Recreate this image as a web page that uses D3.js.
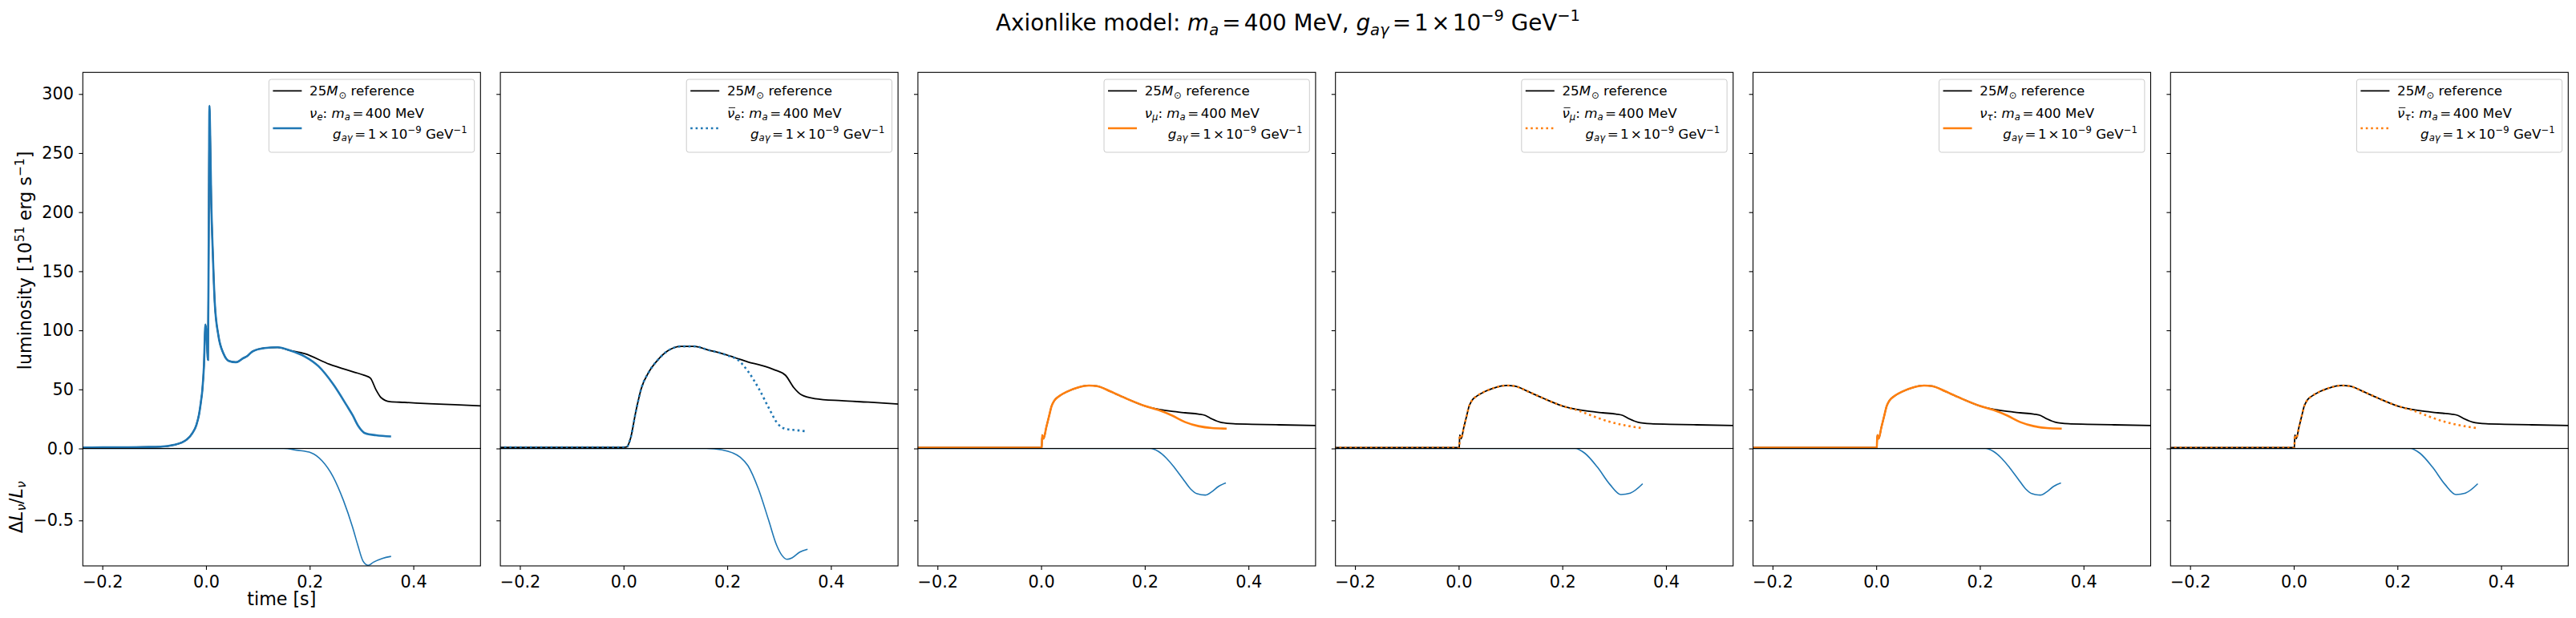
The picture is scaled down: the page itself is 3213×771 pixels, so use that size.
<!DOCTYPE html>
<html><head><meta charset="utf-8">
<script src="https://cdn.jsdelivr.net/npm/d3@7"></script>
<style>
body{margin:0;background:#fff}
svg{display:block}
text{font-family:"DejaVu Sans",sans-serif;white-space:pre;fill:#000}
</style>
</head><body>
<svg id="c" width="3213" height="771"></svg>
<script>
// ---------------- data ----------------
const xTicks = [-0.2, 0.0, 0.2, 0.4];
const xTickLabels = ["\u22120.2", "0.0", "0.2", "0.4"];
const lumTicks = [50, 100, 150, 200, 250, 300];
const lumTickLabels = ["50", "100", "150", "200", "250", "300"];
const ratioTicks = [0, -0.5];
const ratioTickLabels = ["0.0", "\u22120.5"];

// [time s, luminosity 1e51 erg/s]
const refNuE = [[-0.25,0.8],[-0.2,0.9],[-0.15,1.0],[-0.12,1.2],[-0.088,1.5],[-0.062,3],[-0.047,5],[-0.037,7.6],[-0.026,13.2],[-0.0185,20],[-0.0134,29],[-0.0097,40],[-0.0072,49],[-0.004,70],[-0.0012,105],[0.0008,98],[0.0037,75],[0.0052,180],[0.0066,290],[0.0078,270],[0.0099,213],[0.0133,163],[0.0169,123],[0.0237,96],[0.034,80],[0.0444,74],[0.058,73],[0.072,76.5],[0.0789,78],[0.0893,82],[0.113,85],[0.138,85.6],[0.162,83],[0.19,80.3],[0.238,71.3],[0.286,64.6],[0.305,62],[0.317,59.6],[0.328,49.6],[0.338,42.9],[0.355,39.6],[0.383,39],[0.43,37.9],[0.48,37],[0.54,35.8]];
const axNuE = [[-0.25,0.8],[-0.2,0.9],[-0.15,1.0],[-0.12,1.2],[-0.088,1.5],[-0.062,3],[-0.047,5],[-0.037,7.6],[-0.026,13.2],[-0.0185,20],[-0.0134,29],[-0.0097,40],[-0.0072,49],[-0.004,70],[-0.0012,105],[0.0008,98],[0.0037,75],[0.0052,180],[0.0066,290],[0.0078,270],[0.0099,213],[0.0133,163],[0.0169,123],[0.0237,96],[0.034,80],[0.0444,74],[0.058,73],[0.072,76.5],[0.0789,78],[0.0893,82],[0.113,85],[0.138,85.6],[0.162,83],[0.19,78],[0.217,69.6],[0.245,54.6],[0.272,36],[0.283,28],[0.293,19.5],[0.307,12.9],[0.328,11.2],[0.357,10.2]];
const refNuEbar = [[-0.25,1.0],[0.0,1.0],[0.0058,1.2],[0.0135,8.7],[0.0237,31.4],[0.034,50.6],[0.0496,65.3],[0.065,74.4],[0.0856,82.7],[0.111,86.4],[0.137,86.4],[0.163,83.4],[0.189,80.5],[0.214,77],[0.24,73.2],[0.266,70.3],[0.292,66.4],[0.3125,61.9],[0.328,51.7],[0.343,45.4],[0.369,42.2],[0.421,40.4],[0.472,39.2],[0.54,37.3]];
const axNuEbar = [[-0.25,1.0],[0.0,1.0],[0.0058,1.2],[0.0135,8.7],[0.0237,31.4],[0.034,50.6],[0.0496,65.3],[0.065,74.4],[0.0856,82.7],[0.111,86.4],[0.137,86.4],[0.163,83.4],[0.189,80.5],[0.205,78],[0.219,75.5],[0.24,65.3],[0.261,50.6],[0.281,33.6],[0.297,21.2],[0.3125,16.6],[0.333,15.5],[0.354,14.4]];
const refNuX = [[-0.25,0.7],[0.0,0.7],[0.0011,0.9],[0.0021,11.4],[0.0047,8.3],[0.0099,17.8],[0.015,26.8],[0.0202,35.9],[0.0253,40.4],[0.0356,44.5],[0.0511,48.3],[0.0717,51.7],[0.0923,53.3],[0.1078,52.8],[0.1336,48.3],[0.1645,42.2],[0.2006,35.9],[0.2264,33.2],[0.2522,31.4],[0.278,30.2],[0.3037,29.1],[0.3166,28],[0.3295,25],[0.345,22.3],[0.371,20.9],[0.407,20.5],[0.459,20],[0.54,19.3]];
const axNuX = [[-0.25,0.7],[0.0,0.7],[0.0011,0.9],[0.0021,11.4],[0.0047,8.3],[0.0099,17.8],[0.015,26.8],[0.0202,35.9],[0.0253,40.4],[0.0356,44.5],[0.0511,48.3],[0.0717,51.7],[0.0923,53.3],[0.1078,52.8],[0.1336,48.3],[0.1645,42.2],[0.2006,35.9],[0.2264,32.5],[0.2522,28],[0.278,22.3],[0.3037,18.9],[0.3295,17.3],[0.3579,16.8]];
const axNuXbar = [[-0.25,0.7],[0.0,0.7],[0.0011,0.9],[0.0021,11.4],[0.0047,8.3],[0.0099,17.8],[0.015,26.8],[0.0202,35.9],[0.0253,40.4],[0.0356,44.5],[0.0511,48.3],[0.0717,51.7],[0.0923,53.3],[0.1078,52.8],[0.1336,48.3],[0.1645,42.2],[0.2006,35.9],[0.2313,32],[0.2615,27],[0.2918,22.5],[0.322,19.5],[0.3552,17.1]];

// [time s, relative change]
const dNuE = [[-0.25,0],[0.15,0],[0.175,-0.012],[0.203,-0.03],[0.224,-0.086],[0.245,-0.195],[0.265,-0.36],[0.283,-0.55],[0.293,-0.674],[0.303,-0.783],[0.313,-0.812],[0.323,-0.79],[0.34,-0.764],[0.357,-0.75]];
const dNuEbar = [[-0.25,0],[0.16,0],[0.19,-0.01],[0.21,-0.03],[0.225,-0.06],[0.24,-0.12],[0.26,-0.28],[0.28,-0.5],[0.295,-0.67],[0.305,-0.74],[0.315,-0.77],[0.325,-0.76],[0.34,-0.72],[0.355,-0.7]];
const dNuX = [[-0.25,0],[0.2109,0],[0.2264,-0.021],[0.2419,-0.068],[0.2573,-0.133],[0.2728,-0.207],[0.2883,-0.281],[0.3012,-0.315],[0.3166,-0.324],[0.3295,-0.3],[0.3424,-0.263],[0.3564,-0.24]];
const dNuXbar = [[-0.25,0],[0.225,0],[0.243,-0.032],[0.2677,-0.13],[0.2918,-0.25],[0.313,-0.32],[0.331,-0.31],[0.355,-0.245]];

const flavourSub = ["e", "e", "\u03bc", "\u03bc", "\u03c4", "\u03c4"];
const flavourBar = [false, true, false, true, false, true];
const refSeries = [refNuE, refNuEbar, refNuX, refNuX, refNuX, refNuX];
const axSeries = [axNuE, axNuEbar, axNuX, axNuXbar, axNuX, axNuXbar];
const ratioSeries = [dNuE, dNuEbar, dNuX, dNuXbar, dNuX, dNuXbar];
const seriesColor = ["#1f77b4", "#1f77b4", "#ff7f0e", "#ff7f0e", "#ff7f0e", "#ff7f0e"];
const seriesDotted = [false, true, false, true, false, true];

// ---------------- layout ----------------
const PL0 = 103.3, PSTEP = 520.8, PW = 496, TOP = 90.3, MID = 559.5, BOT = 706;
const FS_TICK = 20.8, FS_LABEL = 22.2, FS_LEG = 16.67, FS_TITLE = 27.8;
const svg = d3.select("#c");

const x = d3.scaleLinear().domain([-0.2377, 0.5295]).range([0, PW]);
const yU = d3.scaleLinear().domain([0, 318.3]).range([MID, TOP]);
const yL = d3.scaleLinear().domain([-0.816, 0]).range([BOT, MID]);

function rich(g, segs, size) {
  const grp = g.append("g");
  let cx = 0;
  segs.forEach(s => {
    const small = s.sub || s.sup;
    const fs = small ? size * 0.7 : size;
    const dy = s.sub ? size * 0.2 : (s.sup ? -size * 0.42 : 0);
    cx += (s.dx || 0) * size;
    const t = grp.append("text").attr("x", cx).attr("y", dy)
      .attr("font-size", fs).attr("font-style", s.it ? "italic" : "normal").text(s.s);
    const w = t.node().getComputedTextLength();
    if (s.over) {
      grp.append("line").attr("x1", cx + 0.12 * fs).attr("x2", cx + w + 0.05 * fs)
        .attr("y1", -fs * 0.74).attr("y2", -fs * 0.74)
        .attr("stroke", "#000").attr("stroke-width", fs * 0.055);
    }
    cx += w + (s.dxAfter || 0) * size;
  });
  return { g: grp, width: cx };
}

// title
const titleSegs = [
  { s: "Axionlike model: " }, { s: "m", it: true }, { s: "a", it: true, sub: true },
  { s: "=", dx: 0.15, dxAfter: 0.15 }, { s: "400 MeV, " },
  { s: "g", it: true }, { s: "a\u03b3", it: true, sub: true },
  { s: "=", dx: 0.15, dxAfter: 0.15 }, { s: "1" }, { s: "\u00d7", dx: 0.12, dxAfter: 0.12 },
  { s: "10" }, { s: "\u22129", sup: true }, { s: " GeV" }, { s: "\u22121", sup: true }
];
const tt = rich(svg, titleSegs, FS_TITLE);
tt.g.attr("transform", `translate(${3213 / 2 - tt.width / 2},38)`);

const lineGen = (yS) => d3.line().x(d => x(d[0])).y(d => yS(d[1])).curve(d3.curveMonotoneX);

for (let i = 0; i < 6; i++) {
  const left = PL0 + i * PSTEP;
  const g = svg.append("g").attr("transform", `translate(${left},0)`);
  const cu = "cu" + i, cl = "cl" + i;
  const defs = g.append("defs");
  defs.append("clipPath").attr("id", cu).append("rect").attr("x", 0).attr("y", TOP).attr("width", PW).attr("height", MID - TOP);
  defs.append("clipPath").attr("id", cl).append("rect").attr("x", 0).attr("y", MID).attr("width", PW).attr("height", BOT - MID);

  // upper curves
  const up = g.append("g").attr("clip-path", `url(#${cu})`);
  up.append("path").datum(refSeries[i]).attr("d", lineGen(yU))
    .attr("fill", "none").attr("stroke", "#000").attr("stroke-width", 1.8);
  up.append("path").datum(axSeries[i]).attr("d", lineGen(yU))
    .attr("fill", "none").attr("stroke", seriesColor[i]).attr("stroke-width", 2.6)
    .attr("stroke-dasharray", seriesDotted[i] ? "2.6,3.8" : null);

  // lower curve
  const lo = g.append("g").attr("clip-path", `url(#${cl})`);
  lo.append("path").datum(ratioSeries[i]).attr("d", lineGen(yL))
    .attr("fill", "none").attr("stroke", "#1f77b4").attr("stroke-width", 1.6);

  // spines
  g.append("rect").attr("x", 0).attr("y", TOP).attr("width", PW).attr("height", MID - TOP)
    .attr("fill", "none").attr("stroke", "#000").attr("stroke-width", 1.1);
  g.append("rect").attr("x", 0).attr("y", MID).attr("width", PW).attr("height", BOT - MID)
    .attr("fill", "none").attr("stroke", "#000").attr("stroke-width", 1.1);

  // axes ticks
  const axU = d3.axisLeft(yU).tickValues(lumTicks).tickSize(4.9).tickPadding(6.5)
    .tickFormat((d, k) => i === 0 ? lumTickLabels[k] : "");
  const axL = d3.axisLeft(yL).tickValues(ratioTicks).tickSize(4.9).tickPadding(6.5)
    .tickFormat((d, k) => i === 0 ? ratioTickLabels[k] : "");
  const axB = d3.axisBottom(x).tickValues(xTicks).tickSize(4.9).tickPadding(7.6)
    .tickFormat((d, k) => xTickLabels[k]);
  [g.append("g").call(axU), g.append("g").call(axL),
   g.append("g").attr("transform", `translate(0,${BOT})`).call(axB)].forEach(a => {
    a.select(".domain").remove();
    a.selectAll(".tick line").attr("stroke", "#000").attr("stroke-width", 1.1);
    a.selectAll(".tick text").attr("font-size", FS_TICK).attr("font-family", "DejaVu Sans").attr("fill", "#000");
  });

  // legend
  const lg = g.append("g");
  const flav = [{ s: "\u03bd", it: true, over: flavourBar[i] }, { s: flavourSub[i], it: true, sub: true }, { s: ": " }];
  const l1 = [{ s: "25" }, { s: "M", it: true }, { s: "\u2299", sub: true, dx: 0.05 }, { s: " reference" }];
  const l2 = flav.concat([{ s: "m", it: true }, { s: "a", it: true, sub: true },
    { s: "=", dx: 0.15, dxAfter: 0.15 }, { s: "400 MeV" }]);
  const l3 = [{ s: "g", it: true }, { s: "a\u03b3", it: true, sub: true },
    { s: "=", dx: 0.15, dxAfter: 0.15 }, { s: "1" }, { s: "\u00d7", dx: 0.12, dxAfter: 0.12 },
    { s: "10" }, { s: "\u22129", sup: true }, { s: " GeV" }, { s: "\u22121", sup: true }];
  const box = lg.append("rect");
  const r1 = rich(lg, l1, FS_LEG), r2 = rich(lg, l2, FS_LEG), r3 = rich(lg, l3, FS_LEG);
  const textX = 50.7, indent = 29;
  const bw = textX + Math.max(r1.width, r2.width, indent + r3.width) + 9;
  const bh = 91;
  const bx = PW - 7.6 - bw, by = TOP + 8.7;
  box.attr("x", bx).attr("y", by).attr("width", bw).attr("height", bh).attr("rx", 3)
    .attr("fill", "#fff").attr("fill-opacity", 0.8).attr("stroke", "#cccccc").attr("stroke-width", 1);
  r1.g.attr("transform", `translate(${bx + textX},${by + 20.3})`);
  r2.g.attr("transform", `translate(${bx + textX},${by + 47.7})`);
  r3.g.attr("transform", `translate(${bx + textX + indent},${by + 73.7})`);
  lg.append("line").attr("x1", bx + 5).attr("x2", bx + 41).attr("y1", by + 14.3).attr("y2", by + 14.3)
    .attr("stroke", "#000").attr("stroke-width", 1.8);
  lg.append("line").attr("x1", bx + 5).attr("x2", bx + 41).attr("y1", by + 61).attr("y2", by + 61)
    .attr("stroke", seriesColor[i]).attr("stroke-width", 2.6)
    .attr("stroke-dasharray", seriesDotted[i] ? "2.6,3.8" : null);

  if (i === 0) {
    const yl = rich(g, [{ s: "luminosity [10" }, { s: "51", sup: true }, { s: " erg s" }, { s: "\u22121", sup: true }, { s: "]" }], FS_LABEL);
    yl.g.attr("transform", `translate(${39 - left},${(TOP + MID) / 2}) rotate(-90) translate(${-yl.width / 2},0)`);
    const dl = rich(g, [{ s: "\u0394" }, { s: "L", it: true }, { s: "\u03bd", it: true, sub: true }, { s: "/" }, { s: "L", it: true }, { s: "\u03bd", it: true, sub: true }], FS_LABEL);
    dl.g.attr("transform", `translate(${27.5 - left},${(MID + BOT) / 2}) rotate(-90) translate(${-dl.width / 2},0)`);
    const xl = rich(g, [{ s: "time [s]" }], FS_LABEL);
    xl.g.attr("transform", `translate(${PW / 2 - xl.width / 2},755)`);
  }
}
</script>
</body></html>
